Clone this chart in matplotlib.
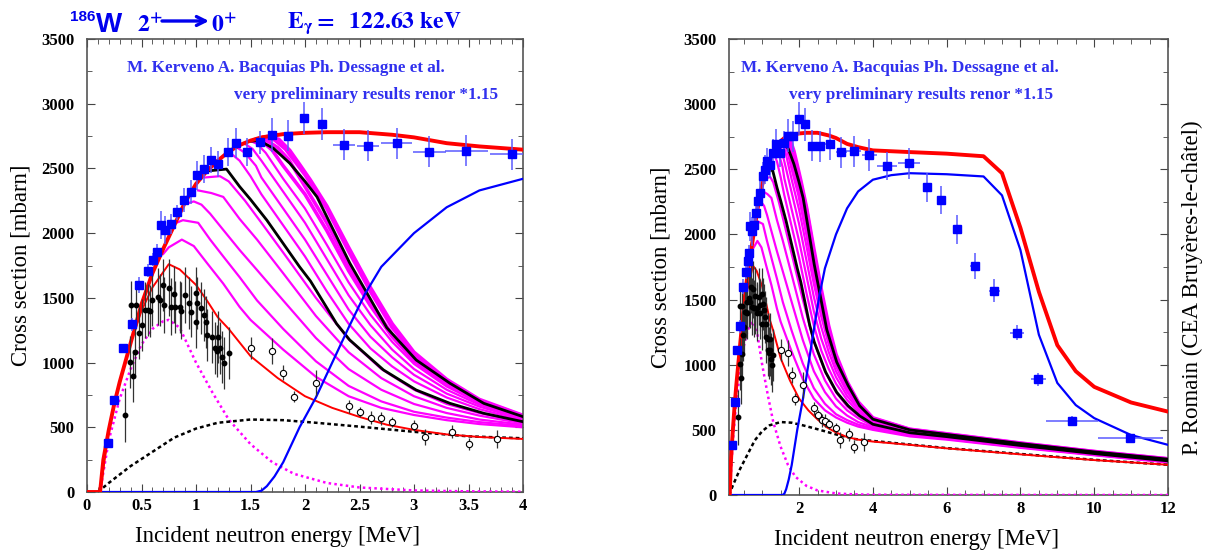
import matplotlib
matplotlib.use('Agg')
import matplotlib.pyplot as plt
from matplotlib.ticker import MultipleLocator, FormatStrFormatter

plt.rcParams['mathtext.fontset'] = 'stix'
SERIF = ['Liberation Serif', 'DejaVu Serif']
SANS = ['Liberation Sans', 'DejaVu Sans']
TXT_BLUE = '#3030ee'
TITLE_BLUE = '#0000ee'

# ---- model curves (energy MeV, cross section mbarn) ----
tot_x = [0, 0.12, 0.15, 0.2, 0.25, 0.3, 0.4, 0.5, 0.6, 0.7, 0.8, 0.9, 1.0, 1.1, 1.2, 1.3, 1.4, 1.5,
         1.6, 1.8, 2.0, 2.2, 2.5, 2.8, 3.0, 3.3, 3.6, 4.0, 5.0, 6.0, 7.0, 7.5, 8.0, 8.5, 9.0, 9.5,
         10.0, 11.0, 12.0]
tot_y = [0, 0, 250, 480, 680, 850, 1150, 1450, 1690, 1880, 2060, 2240, 2380, 2480, 2560, 2630, 2680,
         2715, 2740, 2765, 2775, 2780, 2780, 2760, 2740, 2695, 2670, 2645, 2632, 2620, 2600, 2470,
         2050, 1560, 1150, 950, 830, 710, 640]

blue_x = [0, 1.55, 1.6, 1.65, 1.72, 1.8, 1.95, 2.1, 2.25, 2.4, 2.55, 2.7, 3.0, 3.3, 3.6, 4.0, 4.5,
          5.0, 6.0, 7.0, 7.5, 8.0, 8.5, 9.0, 9.5, 10.0, 11.0, 12.0]
blue_y = [0, 0, 10, 45, 120, 230, 500, 730, 1000, 1270, 1530, 1740, 2000, 2200, 2330, 2420, 2455,
          2470, 2462, 2445, 2300, 1880, 1230, 860, 690, 590, 460, 385]

gs_x = [0, 0.12, 0.2, 0.3, 0.4, 0.5, 0.6, 0.7, 0.75, 0.85, 1.0, 1.1, 1.2, 1.3, 1.5, 1.75, 2.0, 2.25,
        2.5, 2.75, 3.0, 3.3, 3.6, 4.0, 5.0, 6.0, 8.0, 10.0, 12.0]
gs_y = [0, 0, 480, 850, 1150, 1400, 1580, 1700, 1760, 1720, 1600, 1480, 1350, 1260, 1050, 880, 740,
        650, 580, 520, 480, 445, 425, 410, 385, 358, 312, 268, 232]

mdot_x = [0.12, 0.15, 0.2, 0.3, 0.4, 0.5, 0.6, 0.7, 0.75, 0.85, 1.0, 1.15, 1.3, 1.5, 1.7, 1.9, 2.2,
          2.5, 3.0, 3.5, 4.0, 6.0, 12.0]
mdot_y = [0, 150, 400, 720, 950, 1140, 1260, 1320, 1330, 1270, 1000, 770, 560, 370, 230, 140, 70,
          35, 12, 5, 2, 1, 0]

kdot_x = [0.1, 0.2, 0.4, 0.6, 0.8, 1.0, 1.2, 1.5, 1.8, 2.1, 2.5, 3.0, 3.5, 4.0, 6.0, 8.0, 10.0, 12.0]
kdot_y = [0, 70, 200, 310, 420, 490, 535, 560, 555, 535, 505, 465, 430, 415, 360, 315, 270, 232]

# magenta family (each starts where it leaves the total curve)
m1_x = [0.70, 0.75, 0.87, 0.98, 1.10, 1.25, 1.40, 1.50, 1.80, 2.10, 2.40, 2.70, 3.00, 3.30, 3.60, 4.0, 5, 6, 8, 10, 12]
m1_y = [1840, 1890, 1950, 1900, 1770, 1610, 1430, 1330, 1100, 890, 740, 650, 595, 555, 525, 500, 450, 425, 362, 305, 250]
m2_x = [0.82, 0.88, 1.02, 1.13, 1.25, 1.40, 1.56, 1.80, 2.10, 2.40, 2.70, 3.00, 3.30, 3.60, 4.0, 5, 6, 8, 10, 12]
m2_y = [2080, 2100, 2080, 1950, 1820, 1660, 1480, 1260, 1010, 820, 700, 620, 575, 540, 510, 458, 430, 366, 308, 252]
m3_x = [0.92, 0.98, 1.05, 1.13, 1.25, 1.40, 1.56, 1.80, 2.10, 2.40, 2.70, 3.00, 3.30, 3.60, 4.0, 5, 6, 8, 10, 12]
m3_y = [2230, 2245, 2220, 2150, 2025, 1870, 1715, 1480, 1190, 950, 790, 680, 610, 560, 520, 463, 434, 369, 310, 254]
m4_x = [1.02, 1.14, 1.25, 1.40, 1.56, 1.80, 2.10, 2.40, 2.70, 3.00, 3.30, 3.60, 4.0, 5, 6, 8, 10, 12]
m4_y = [2330, 2310, 2280, 2110, 1950, 1690, 1360, 1080, 880, 740, 650, 590, 530, 468, 438, 372, 312, 256]
m5_x = [1.08, 1.22, 1.30, 1.45, 1.60, 1.80, 2.10, 2.40, 2.70, 3.00, 3.30, 3.60, 4.0, 5, 6, 8, 10, 12]
m5_y = [2430, 2440, 2400, 2250, 2080, 1850, 1500, 1180, 950, 790, 680, 610, 540, 474, 444, 376, 315, 258]
g1_x = [1.30, 1.40, 1.50, 1.60, 1.80, 2.0, 2.2, 2.4, 2.6, 2.8, 3.0, 3.3, 3.6, 4.0, 5, 6, 8, 10, 12]
g1_y = [2630, 2560, 2440, 2300, 2060, 1820, 1550, 1300, 1110, 970, 855, 730, 640, 552, 482, 452, 384, 321, 264]
g2_x = [1.37, 1.45, 1.55, 1.60, 1.80, 2.0, 2.2, 2.4, 2.6, 2.8, 3.0, 3.3, 3.6, 4.0, 5, 6, 8, 10, 12]
g2_y = [2665, 2620, 2520, 2430, 2190, 1950, 1680, 1410, 1200, 1040, 905, 760, 660, 560, 487, 456, 388, 324, 266]
g3_x = [1.44, 1.52, 1.60, 1.80, 2.0, 2.2, 2.4, 2.6, 2.8, 3.0, 3.3, 3.6, 4.0, 5, 6, 8, 10, 12]
g3_y = [2695, 2650, 2560, 2320, 2080, 1800, 1520, 1290, 1100, 950, 790, 675, 567, 491, 459, 390, 326, 268]
g4_x = [1.50, 1.56, 1.64, 1.80, 2.0, 2.2, 2.4, 2.6, 2.8, 3.0, 3.3, 3.6, 4.0, 5, 6, 8, 10, 12]
g4_y = [2712, 2690, 2620, 2420, 2190, 1910, 1620, 1370, 1160, 990, 815, 688, 573, 494, 461, 392, 328, 270]
b1_x = [1.55, 1.62, 1.70, 1.80, 2.0, 2.2, 2.4, 2.6, 2.8, 3.0, 3.3, 3.6, 4.0, 5, 6, 8, 10, 12]
b1_y = [2725, 2700, 2640, 2520, 2300, 2020, 1710, 1440, 1200, 1015, 830, 694, 577, 497, 463, 393, 329, 272]
b2_x = [1.58, 1.66, 1.75, 1.85, 2.0, 2.2, 2.4, 2.6, 2.8, 3.0, 3.3, 3.6, 4.0, 5, 6, 8, 10, 12]
b2_y = [2730, 2710, 2660, 2570, 2360, 2080, 1760, 1470, 1215, 1028, 842, 698, 580, 499, 464, 394, 330, 273]
b3_x = [1.62, 1.72, 1.82, 1.92, 2.0, 2.2, 2.4, 2.6, 2.8, 3.0, 3.3, 3.6, 4.0, 5, 6, 8, 10, 12]
b3_y = [2740, 2720, 2650, 2540, 2450, 2190, 1860, 1550, 1270, 1060, 860, 708, 588, 503, 468, 397, 333, 277]
b4_x = [1.66, 1.76, 1.86, 1.96, 2.05, 2.2, 2.4, 2.6, 2.8, 3.0, 3.3, 3.6, 4.0, 5, 6, 8, 10, 12]
b4_y = [2745, 2725, 2640, 2520, 2410, 2210, 1890, 1580, 1300, 1080, 870, 715, 592, 505, 470, 399, 334, 278]
band_x = [b1_x, b2_x, b3_x, b4_x]
band_y = [b1_y, b2_y, b3_y, b4_y]
magenta_x = [m1_x, m2_x, m3_x, m4_x, m5_x, g1_x, g2_x, g3_x, g4_x]
magenta_y = [m1_y, m2_y, m3_y, m4_y, m5_y, g1_y, g2_y, g3_y, g4_y]

kin_x = [1.06, 1.10, 1.28, 1.40, 1.50, 1.65, 1.80, 1.95, 2.05, 2.29, 2.41, 2.72, 3.02, 3.33, 3.64, 4.0, 5, 6, 8, 10, 12]
kin_y = [2470, 2480, 2495, 2360, 2260, 2100, 1920, 1740, 1630, 1300, 1175, 943, 788, 685, 608, 543, 478, 448, 380, 318, 262]
kout_x = [1.50, 1.58, 1.71, 1.86, 2.00, 2.11, 2.26, 2.41, 2.57, 2.75, 3.02, 3.33, 3.64, 4.0, 5, 6, 8, 10, 12]
kout_y = [2710, 2715, 2656, 2540, 2400, 2280, 2025, 1770, 1535, 1270, 1020, 840, 685, 582, 500, 465, 395, 331, 275]

# ---- data ----
sq_x = [0.19, 0.25, 0.33, 0.41, 0.48, 0.56, 0.61, 0.64, 0.68, 0.72, 0.77, 0.83, 0.89, 0.95, 1.01, 1.07,
        1.14, 1.20, 1.29, 1.37, 1.47, 1.59, 1.70, 1.84, 1.99, 2.16, 2.36, 2.58, 2.84, 3.14, 3.48, 3.90,
        4.38, 4.97, 5.47, 5.85, 6.28, 6.76, 7.29, 7.91, 8.48, 9.40, 10.98]
sq_y = [380, 710, 1110, 1296, 1600, 1708, 1793, 1857, 2063, 2025, 2071, 2161, 2256, 2318, 2447, 2496,
        2566, 2532, 2625, 2694, 2625, 2702, 2759, 2753, 2888, 2844, 2682, 2676, 2694, 2630, 2638, 2610,
        2525, 2546, 2361, 2264, 2039, 1758, 1568, 1246, 888, 568, 435]
sq_xerr = [0] * 26 + [0.10, 0.10, 0.14, 0.15, 0.20, 0.20, 0.27, 0.30, 0.10, 0.10, 0.10, 0.12, 0.15,
                      0.20, 0.20, 0.70, 0.88]
sq_yerr = [30, 30, 30, 50, 60, 50, 50, 60, 110, 110, 80, 60, 90, 90, 110, 110, 100, 100, 110, 115, 110,
           90, 130, 120, 125, 125, 120, 120, 120, 120, 120, 120, 110, 120, 110, 110, 110, 100, 90, 60,
           50, 40, 30]

dot_x = [0.35, 0.39, 0.40, 0.42, 0.44, 0.45, 0.48, 0.50, 0.53, 0.56, 0.58, 0.60, 0.65, 0.67, 0.70, 0.71,
         0.75, 0.77, 0.80, 0.81, 0.85, 0.86, 0.90, 0.94, 0.95, 1.00, 1.01, 1.00, 1.05, 1.07, 1.09, 1.10,
         1.15, 1.17, 1.19, 1.20, 1.22, 1.24, 1.26, 1.30]
dot_y = [595, 1007, 1448, 896, 1084, 1448, 1226, 1291, 1406, 1406, 1399, 1484, 1509, 1484, 1600, 1445,
         1579, 1432, 1528, 1432, 1432, 1400, 1522, 1458, 1394, 1540, 1463, 1316, 1420, 1368, 1316, 1213,
         1200, 1110, 1090, 1200, 1110, 1046, 994, 1072]
dot_err = [210, 200, 180, 200, 200, 180, 200, 200, 220, 200, 200, 200, 220, 200, 200, 220, 220, 220,
           220, 200, 200, 220, 220, 200, 200, 200, 200, 200, 200, 200, 200, 200, 200, 200, 200, 200,
           200, 200, 200, 200]

oc_x = [1.50, 1.70, 1.80, 1.90, 2.10, 2.40, 2.50, 2.61, 2.70, 2.80, 3.00, 3.10, 3.35, 3.50, 3.76]
oc_y = [1110, 1092, 922, 737, 845, 664, 616, 574, 569, 543, 513, 423, 466, 371, 407]
oc_err = [85, 100, 60, 45, 100, 50, 40, 50, 50, 40, 40, 60, 50, 50, 70]


def draw(ax):
    for xs, ys in zip(magenta_x, magenta_y):
        ax.plot(xs, ys, color='#ff00ff', lw=1.6, zorder=2)
    for xs, ys in zip(band_x, band_y):
        ax.plot(xs, ys, color='#ff00ff', lw=2.6, zorder=2)
    ax.plot(kin_x, kin_y, color='black', lw=2, zorder=3)
    ax.plot(kout_x, kout_y, color='black', lw=2, zorder=3)
    ax.plot(mdot_x, mdot_y, color='#ff00ff', lw=1.8, ls=(0, (1, 1.3)), zorder=3)
    ax.plot(kdot_x, kdot_y, color='black', lw=1.8, ls=(0, (1.5, 1.2)), zorder=3)
    ax.plot(gs_x, gs_y, color='red', lw=1.4, zorder=3.5)
    ax.plot(blue_x, blue_y, color='#0000ff', lw=1.6, zorder=4)
    ax.plot(tot_x, tot_y, color='red', lw=2.8, zorder=5)
    ax.errorbar(dot_x, dot_y, yerr=dot_err, fmt='o', ms=3.2, color='black', ecolor='#333333',
                elinewidth=0.9, capsize=0, zorder=6)
    ax.errorbar(oc_x, oc_y, yerr=oc_err, fmt='o', ms=4.5, mfc='white', mec='black', mew=0.8,
                ecolor='#333333', elinewidth=0.9, capsize=0, zorder=6)
    ax.errorbar(sq_x, sq_y, xerr=sq_xerr, yerr=sq_yerr, fmt='s', ms=6, color='#0000ff',
                ecolor='#5a5aff', elinewidth=1.1, capsize=0, zorder=7)
    ax.set_ylim(0, 3500)
    ax.yaxis.set_major_locator(MultipleLocator(500))
    ax.yaxis.set_minor_locator(MultipleLocator(250))
    ax.xaxis.set_major_formatter(FormatStrFormatter('%g'))
    ax.tick_params(which='both', direction='in', top=True, right=True, color='#444444')
    ax.tick_params(which='major', length=6)
    ax.tick_params(which='minor', length=3.5)
    ax.tick_params(axis='x', pad=4)
    ax.tick_params(axis='y', pad=9)
    for sp in ax.spines.values():
        sp.set_color('#555555')
        sp.set_linewidth(1.2)
    for lab in ax.get_xticklabels() + ax.get_yticklabels():
        lab.set_family(SERIF)
        lab.set_fontweight('bold')
        lab.set_fontsize(12)
    ax.set_xlabel('Incident neutron energy [MeV]', family=SERIF, fontsize=16.4)
    ax.set_ylabel('Cross section [mbarn]', family=SERIF, fontsize=16.4)


fig = plt.figure(figsize=(12.1, 5.52), dpi=100)
axL = fig.add_axes([87 / 1210, 1 - 492 / 552, 436 / 1210, 453 / 552])
axR = fig.add_axes([729 / 1210, 1 - 495 / 552, 439 / 1210, 456 / 552])

axL.set_xlim(0, 4)
axL.xaxis.set_major_locator(MultipleLocator(0.5))
axL.xaxis.set_minor_locator(MultipleLocator(0.1))
axR.set_xlim(0.1, 12)
axR.xaxis.set_major_locator(MultipleLocator(2))
axR.xaxis.set_minor_locator(MultipleLocator(0.5))
draw(axL)
draw(axR)

axL.xaxis.set_label_coords(0.438, -0.075)
axR.xaxis.set_label_coords(0.428, -0.075)
axL.yaxis.set_label_coords(-0.128, 0.5)
axR.yaxis.set_label_coords(-0.132, 0.5)

for ax, (x1, x2) in [(axL, (127, 498)), (axR, (741, 1053))]:
    ax.text(x1 / 1210, 1 - 72 / 552, 'M. Kerveno A. Bacquias Ph. Dessagne et al.',
            transform=fig.transFigure, family=SERIF, weight='bold', fontsize=12.3,
            color=TXT_BLUE, ha='left', va='baseline')
    ax.text(x2 / 1210, 1 - 99 / 552, 'very preliminary results renor *1.15',
            transform=fig.transFigure, family=SERIF, weight='bold', fontsize=12.3,
            color=TXT_BLUE, ha='right', va='baseline')

# title
fig.text(70 / 1210, 1 - 21 / 552, '186', family=SANS, weight='bold', fontsize=11, color=TITLE_BLUE)
fig.text(96 / 1210, 1 - 32 / 552, 'W', family=SANS, weight='bold', fontsize=20, color=TITLE_BLUE)
fig.text(137 / 1210, 1 - 32 / 552, r'$\mathbf{2^{+}}$', fontsize=17, color=TITLE_BLUE)
axL.annotate('', xy=(209 / 1210, 1 - 21 / 552), xytext=(162 / 1210, 1 - 21 / 552),
             xycoords='figure fraction', textcoords='figure fraction', annotation_clip=False,
             arrowprops=dict(arrowstyle='->', color=TITLE_BLUE, lw=2.4, mutation_scale=16,
                             shrinkA=0, shrinkB=0))
fig.text(211 / 1210, 1 - 32 / 552, r'$\mathbf{0^{+}}$', fontsize=17, color=TITLE_BLUE)
fig.text(287 / 1210, 1 - 28 / 552, r'$\mathbf{E_{\gamma}{=}\ \ 122.63\ keV}$', fontsize=17,
         color=TITLE_BLUE)

fig.text(1192 / 1210, 1 - 288 / 552, 'P. Romain (CEA Bruyères-le-châtel)', rotation=90,
         family=SERIF, fontsize=16.5, ha='center', va='center')

fig.savefig('out.png', dpi=100)
